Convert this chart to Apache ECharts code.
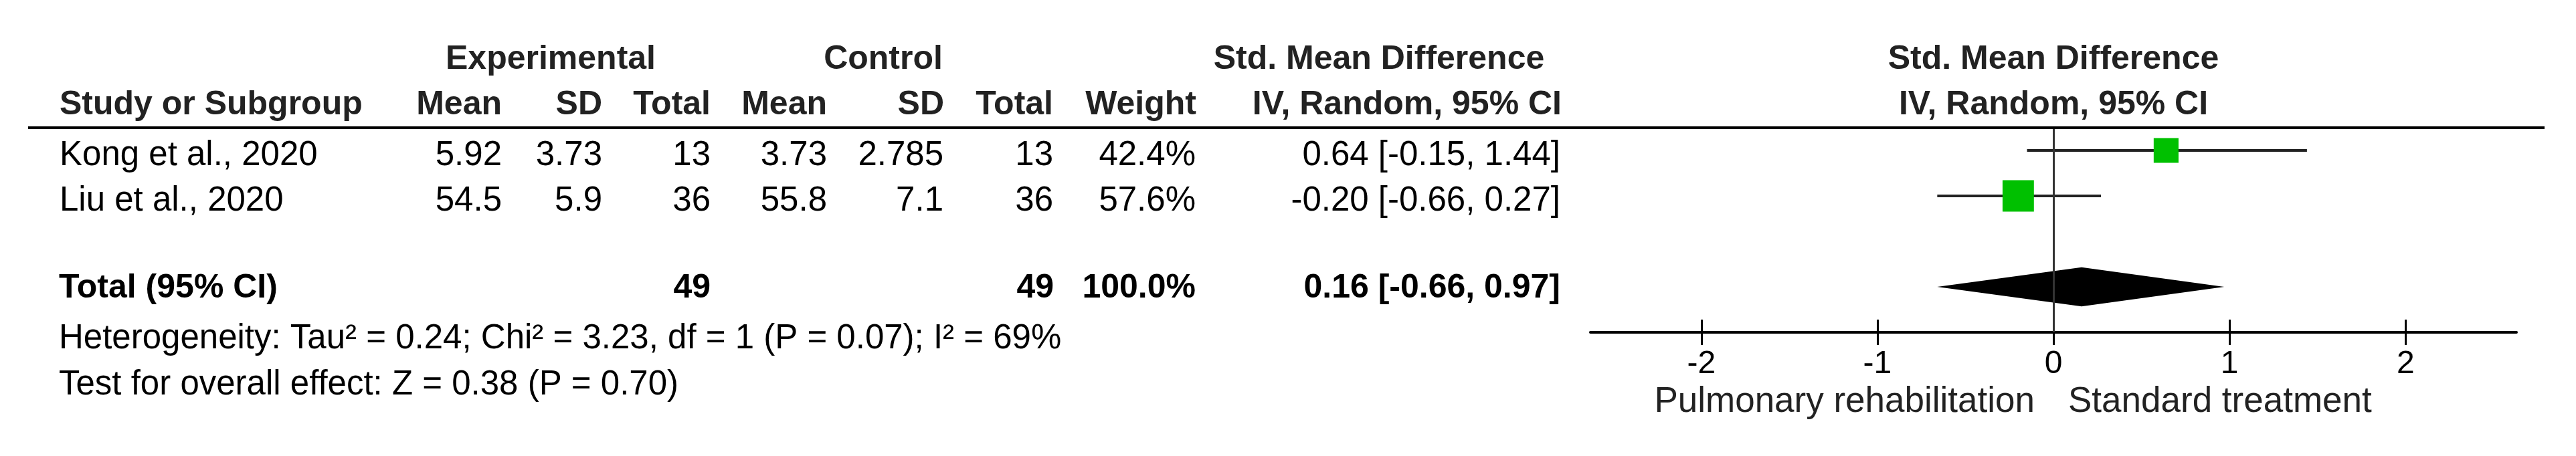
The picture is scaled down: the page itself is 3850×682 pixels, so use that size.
<!DOCTYPE html>
<html><head><meta charset="utf-8">
<script src="https://cdn.jsdelivr.net/npm/echarts@6/dist/echarts.min.js"></script>
<style>html,body{margin:0;padding:0;background:#fff}#c{width:3850px;height:682px}</style>
</head><body><div id="c"></div>
<script>
// ---- data ----
const studies = ['Kong et al., 2020', 'Liu et al., 2020'];
const expMean = [5.92, 54.5];
const expSD = [3.73, 5.9];
const expTotal = [13, 36];
const ctrlMean = [3.73, 55.8];
const ctrlSD = [2.785, 7.1];
const ctrlTotal = [13, 36];
const weights = [42.4, 57.6];
const smd = [0.64, -0.20];
const ciLow = [-0.15, -0.66];
const ciHigh = [1.44, 0.27];
const totalLabel = 'Total (95% CI)';
const pooledSmd = 0.16;
const pooledLow = -0.66;
const pooledHigh = 0.97;
const xTicks = [-2, -1, 0, 1, 2];
const heterogeneity = 'Heterogeneity: Tau\u00B2 = 0.24; Chi\u00B2 = 3.23, df = 1 (P = 0.07); I\u00B2 = 69%';
const overallEffect = 'Test for overall effect: Z = 0.38 (P = 0.70)';
const favoursLeft = 'Pulmonary rehabilitation';
const favoursRight = 'Standard treatment';
const studyRows = [0, 1];
const totalRow = 3;

const FONT = '"Liberation Sans", Arial, sans-serif';
const chart = echarts.init(document.getElementById('c'), null, {renderer: 'canvas'});

const fmt2 = v => v.toFixed(2);
const ciText = (e, l, h) => fmt2(e) + ' [' + fmt2(l) + ', ' + fmt2(h) + ']';

const GRID = {left: 2377, right: 89, top: 191, bottom: 185};
const gridH = 682 - GRID.top - GRID.bottom;

const baseAxis = {
  type: 'value', min: -2.63, max: 2.63, gridIndex: 0,
  splitLine: {show: false}
};

chart.setOption({
  animation: false,
  backgroundColor: '#fff',
  grid: Object.assign({containLabel: false}, GRID),
  xAxis: [
    Object.assign({}, baseAxis, {
      position: 'bottom',
      axisLine: {show: true, onZero: false, lineStyle: {color: '#000', width: 4}},
      axisTick: {show: true, customValues: xTicks, length: 19, inside: false, lineStyle: {color: '#000', width: 3}},
      axisLabel: {show: true, customValues: xTicks, fontSize: 48, fontFamily: FONT, color: '#000', margin: 24}
    }),
    // same scale, drawn on the bottom edge, ticks pointing up so they cross the axis line
    Object.assign({}, baseAxis, {
      position: 'top', offset: -gridH,
      axisLine: {show: false, onZero: false},
      axisTick: {show: true, customValues: xTicks, length: 19, inside: false, lineStyle: {color: '#000', width: 3}},
      axisLabel: {show: false}
    })
  ],
  yAxis: {type: 'value', min: -0.5, max: 4, inverse: true, show: false},
  series: [
    {
      type: 'custom', name: 'ci', xAxisIndex: 0, yAxisIndex: 0,
      encode: {x: [0, 1], y: 2},
      data: studies.map((s, i) => [ciLow[i], ciHigh[i], studyRows[i]]),
      renderItem: function (params, api) {
        const p1 = api.coord([api.value(0), api.value(2)]);
        const p2 = api.coord([api.value(1), api.value(2)]);
        return {type: 'line', shape: {x1: p1[0], y1: p1[1], x2: p2[0], y2: p2[1]},
          style: {stroke: '#222', lineWidth: 4}};
      },
      markLine: {
        silent: true, symbol: ['none', 'none'], label: {show: false},
        lineStyle: {color: '#333', width: 3, type: 'solid'},
        data: [{xAxis: 0}]
      },
      z: 2
    },
    {
      type: 'scatter', name: 'smd', symbol: 'rect',
      data: studies.map((s, i) => [smd[i], studyRows[i], weights[i]]),
      symbolSize: v => 10 + 0.64 * v[2],
      itemStyle: {color: '#00C000', opacity: 1},
      z: 3
    },
    {
      type: 'custom', name: 'pooled',
      encode: {x: [0, 1, 2], y: 3},
      data: [[pooledLow, pooledSmd, pooledHigh, totalRow]],
      renderItem: function (params, api) {
        const r = api.value(3);
        const a = api.coord([api.value(0), r]);
        const t = api.coord([api.value(1), r - 0.43]);
        const b = api.coord([api.value(2), r]);
        const d = api.coord([api.value(1), r + 0.43]);
        return {type: 'polygon', shape: {points: [a, t, b, d]}, style: {fill: '#000'}};
      },
      z: 3
    }
  ]
});

// ---- table text ----
const rowY = r => chart.convertToPixel({yAxisIndex: 0}, r);
const zeroX = chart.convertToPixel({xAxisIndex: 0}, 0);
const g = [];
function T(text, x, y, align, bold, size, color) {
  g.push({type: 'text', x: x, y: y, silent: true,
    style: {text: String(text), fontSize: size || 51, fontFamily: FONT,
      fontWeight: bold ? 'bold' : 'normal', fill: color || '#000',
      align: align, verticalAlign: 'middle'}});
}
const H1 = rowY(-2), H2 = rowY(-1);
const HC = '#222';
T('Experimental', 823, H1, 'center', true, 50, HC);
T('Control', 1320, H1, 'center', true, 50, HC);
T('Std. Mean Difference', 2061, H1, 'center', true, 50, HC);
T('Std. Mean Difference', zeroX, H1, 'center', true, 50, HC);
T('Study or Subgroup', 89, H2, 'left', true, 50, HC);
T('Mean', 750, H2, 'right', true, 50, HC);
T('SD', 900, H2, 'right', true, 50, HC);
T('Total', 1062, H2, 'right', true, 50, HC);
T('Mean', 1236, H2, 'right', true, 50, HC);
T('SD', 1411, H2, 'right', true, 50, HC);
T('Total', 1574, H2, 'right', true, 50, HC);
T('Weight', 1788, H2, 'right', true, 50, HC);
T('IV, Random, 95% CI', 2334, H2, 'right', true, 50, HC);
T('IV, Random, 95% CI', zeroX, H2, 'center', true, 50, HC);

studies.forEach((s, i) => {
  const y = rowY(studyRows[i]) + 8;
  T(s, 89, y, 'left');
  T(expMean[i], 750, y, 'right');
  T(expSD[i], 900, y, 'right');
  T(expTotal[i], 1062, y, 'right');
  T(ctrlMean[i], 1236, y, 'right');
  T(ctrlSD[i], 1410, y, 'right');
  T(ctrlTotal[i], 1574, y, 'right');
  T(weights[i].toFixed(1) + '%', 1787, y, 'right');
  T(ciText(smd[i], ciLow[i], ciHigh[i]), 2332, y, 'right');
});
const sum = a => a.reduce((p, c) => p + c, 0);
const ty = rowY(totalRow) + 2;
T(totalLabel, 88, ty, 'left', true, 50);
T(sum(expTotal), 1062, ty, 'right', true, 50);
T(sum(ctrlTotal), 1575, ty, 'right', true, 50);
T(sum(weights).toFixed(1) + '%', 1787, ty, 'right', true, 50);
T(ciText(pooledSmd, pooledLow, pooledHigh), 2332, ty, 'right', true, 50);

T(heterogeneity, 88, 507, 'left');
T(overallEffect, 88, 576, 'left');
T(favoursLeft, zeroX - 28, 601, 'right', false, 53, '#222');
T(favoursRight, zeroX + 22, 601, 'left', false, 53, '#222');

// header rule
g.push({type: 'line', silent: true, shape: {x1: 42, y1: rowY(-0.5), x2: 3803, y2: rowY(-0.5)},
  style: {stroke: '#000', lineWidth: 4}, z: 10});

chart.setOption({graphic: g});
</script></body></html>
